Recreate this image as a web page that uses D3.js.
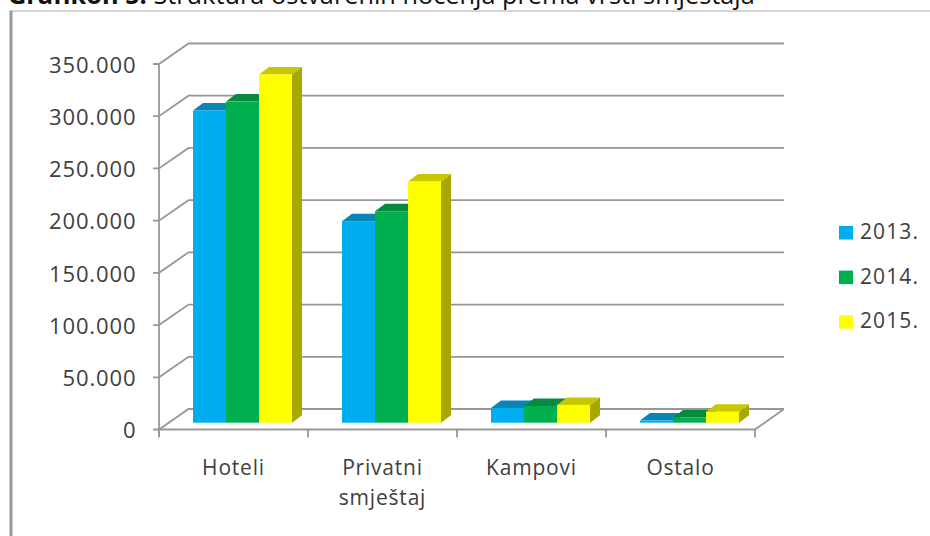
<!DOCTYPE html>
<html><head><meta charset="utf-8">
<style>html,body{margin:0;padding:0;background:#fff}svg{display:block}</style>
<script src="https://cdn.jsdelivr.net/npm/d3@7"></script></head>
<body><svg id="c" width="930" height="536"></svg>
<script>
const categories=[["Hoteli"],["Privatni","smještaj"],["Kampovi"],["Ostalo"]];
const seriesNames=["2013.","2014.","2015."];
const values2013=[299000,193000,14000,2000];
const values2014=[307500,202500,16000,5000];
const values2015=[333500,231000,17000,10500];
const allValues=[values2013,values2014,values2015];
const colorsFront=["#00aeef","#00b050","#ffff00"];
const colorsTop=["#0a85b8","#058a40","#c8c800"];
const colorsSide=["#0a6f99","#04703a","#a8a800"];
const yTicks=[0,50000,100000,150000,200000,250000,300000,350000];
const tickText=d=>d===0?"0":d3.format(",")(d).replace(/,/g,".");
const font="'Open Sans'", ink="#404040", gray="#979797";
const svg=d3.select("#c");
const frontY=d3.scaleLinear().domain([0,350000]).range([429.5,64]);
const x0=d3.scaleBand().domain(d3.range(4)).range([159,755]);
const x1=d3.scaleBand().domain(d3.range(3)).range([34,133]);
const wallDx=29.5, wallDy=-20.5, barDx=10, barDy=-7.5, barBase=-6.8;

// title + frame
svg.append("text").attr("x",8).attr("y",4).attr("font-family",font).attr("font-size",25.3).attr("fill","#111")
 .html('<tspan font-weight="700">Grafikon 5.</tspan> Struktura ostvarenih noćenja prema vrsti smještaja');
svg.append("line").attr("x1",9).attr("x2",930).attr("y1",11).attr("y2",11).attr("stroke","#aaa").attr("stroke-width",1);
svg.append("line").attr("x1",11).attr("x2",11).attr("y1",11).attr("y2",536).attr("stroke","#999").attr("stroke-width",3);

// walls
const g=svg.append("g").attr("fill","none").attr("stroke",gray).attr("stroke-width",1.8);
yTicks.forEach(t=>{
 const y=frontY(t);
 g.append("path").attr("d",d3.line()([[153,y],[159,y],[159+wallDx,y+wallDy],[784,y+wallDy]]));
 svg.append("text").attr("x",136.5).attr("y",y+8.8).attr("text-anchor","end").attr("font-family",font).attr("font-size",22).attr("letter-spacing",0.9).attr("fill",ink).text(tickText(t));
});
g.append("line").attr("x1",159).attr("x2",159).attr("y1",frontY(350000)).attr("y2",frontY(0)+6);
g.append("line").attr("x1",159).attr("x2",755).attr("y1",frontY(0)).attr("y2",frontY(0));
g.append("line").attr("x1",755).attr("x2",784).attr("y1",frontY(0)).attr("y2",frontY(0)+wallDy);
d3.range(5).forEach(i=>{const x=159+i*x0.step();
 g.append("line").attr("x1",x).attr("x2",x).attr("y1",frontY(0)).attr("y2",frontY(0)+8);});

// bars
categories.forEach((c,ci)=>{
 allValues.forEach((vals,si)=>{
  const x=x0(ci)+x1(si), w=x1.bandwidth(), b=frontY(0)+barBase, t=frontY(vals[ci])+barBase;
  const p=svg.append("g");
  p.append("path").attr("fill",colorsSide[si]).attr("d",d3.line()([[x+w,b],[x+w+barDx,b+barDy],[x+w+barDx,t+barDy],[x+w,t]]));
  p.append("path").attr("fill",colorsTop[si]).attr("d",d3.line()([[x,t],[x+barDx,t+barDy],[x+w+barDx,t+barDy],[x+w,t]]));
  p.append("rect").attr("x",x).attr("y",t).attr("width",w).attr("height",b-t).attr("fill",colorsFront[si]);
 });
 const cx=x0(ci)+x0.bandwidth()/2;
 c.forEach((l,li)=>svg.append("text").attr("x",cx).attr("y",475+li*30).attr("text-anchor","middle")
   .attr("font-family",font).attr("font-size",21).attr("letter-spacing",0.8).attr("fill",ink).text(l));
});

// legend
seriesNames.forEach((n,i)=>{
 const y=226+i*44.6;
 svg.append("rect").attr("x",839).attr("y",y).attr("width",14).attr("height",13.5).attr("fill",colorsFront[i]);
 svg.append("text").attr("x",860).attr("y",y+13).attr("font-family",font).attr("font-size",21).attr("letter-spacing",1.1).attr("fill",ink).text(n);
});
</script></body></html>
